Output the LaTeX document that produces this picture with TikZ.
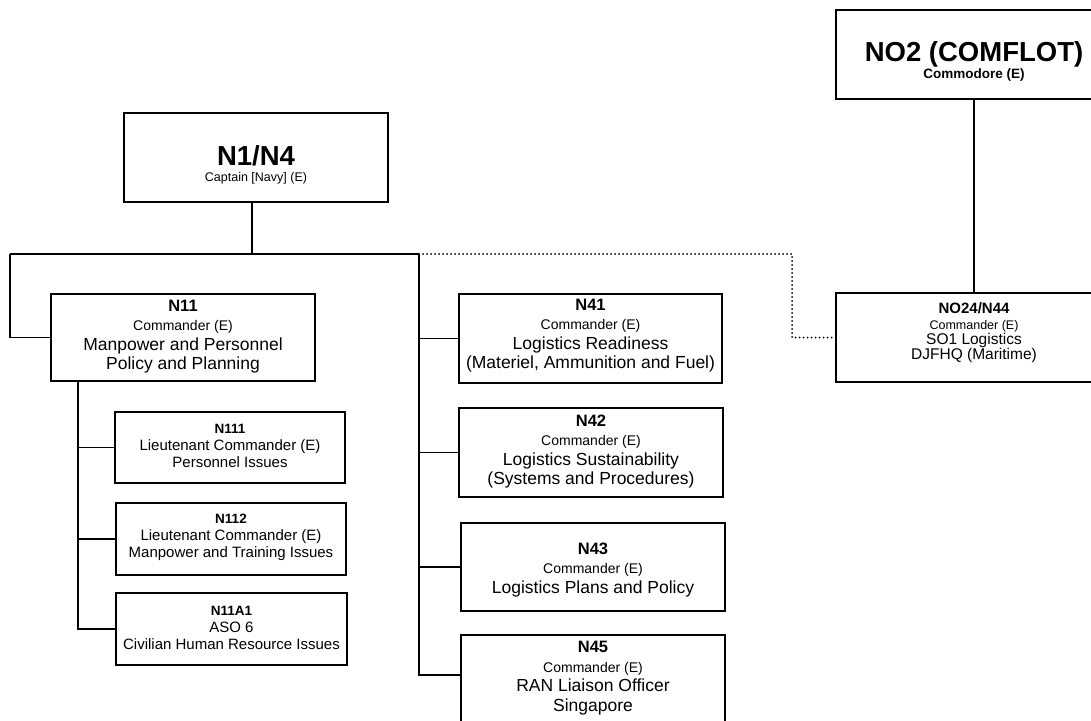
\documentclass[tikz,border=0pt]{standalone}
\usepackage{fontspec}
\setmainfont{Liberation Sans}
\newcommand{\fT}{\fontsize{27.5}{28}\selectfont\bfseries}
\newcommand{\fS}{\fontsize{12.5}{14}\selectfont}
\newcommand{\fSb}{\fontsize{13.5}{15}\selectfont\bfseries}
\newcommand{\fH}{\fontsize{16.5}{18}\selectfont\bfseries}
\newcommand{\fC}{\fontsize{14}{16}\selectfont}
\newcommand{\fL}{\fontsize{17.5}{19}\selectfont}
\newcommand{\fM}{\fontsize{15}{17}\selectfont}
\newcommand{\fMl}{\fontsize{15.5}{16}\selectfont}
\newcommand{\fN}{\fontsize{13.5}{15}\selectfont\bfseries}
\newcommand{\fNb}{\fontsize{15}{17}\selectfont\bfseries}
\newcommand{\fCs}{\fontsize{12.5}{14}\selectfont}
\begin{document}
\begin{tikzpicture}[x=1pt,y=-1pt,
  box/.style={draw, line width=1.5pt, rectangle, inner sep=0pt},
  conn/.style={line width=1.4pt},
  dots/.style={line width=2pt, line cap=round, dash pattern=on 0pt off 4pt},
  big/.style={align=center, font=\fontsize{17.5}{19.5}\selectfont, inner sep=0pt},
  small/.style={align=center, font=\fontsize{15}{17}\selectfont, inner sep=0pt},
  tiny/.style={align=center, font=\fontsize{15}{15.4}\selectfont, inner sep=0pt}
]
\useasboundingbox (0,0) rectangle (1091,720);
\clip (0,0) rectangle (1091,720);

% top boxes
\node[box, minimum width=264pt, minimum height=89pt] (n1) at (256,157.5) {};
\node[align=center, inner sep=0pt, font=\fontsize{16}{16}\selectfont, yshift=-7pt] (n1t) at (n1.center)
  {{\fT N1/N4}\\{\fS Captain [Navy] (E)}};

\node[box, minimum width=276pt, minimum height=89pt] (no2) at (974,54.5) {};
\node[align=center, inner sep=0pt, font=\fontsize{17}{17}\selectfont, yshift=-7pt] (no2t) at (no2.center)
  {{\fT NO2 (COMFLOT)}\\{\fSb Commodore (E)}};

\node[box, minimum width=276pt, minimum height=89pt] (no24) at (974,337.5) {};
\node[tiny, yshift=4.5pt] (no24t) at (no24.center)
  {{\fNb NO24/N44}\\{\fCs Commander (E)}\\{\fMl SO1 Logistics}\\{\fMl DJFHQ (Maritime)}};

% N11 branch
\node[box, minimum width=264pt, minimum height=87pt] (n11) at (183,337.5) {};
\node[big, yshift=1pt] (n11t) at (n11.center)
  {{\fH N11}\\{\fC Commander (E)}\\{\fL Manpower and Personnel}\\{\fL Policy and Planning}};

\node[box, minimum width=230pt, minimum height=71pt] (n111) at (230,447.5) {};
\node[small, yshift=1.5pt] (n111t) at (n111.center)
  {{\fN N111}\\{\fM Lieutenant Commander (E)}\\{\fM Personnel Issues}};

\node[box, minimum width=230pt, minimum height=72pt] (n112) at (231,539) {};
\node[small, yshift=1.5pt] (n112t) at (n112.center)
  {{\fN N112}\\{\fM Lieutenant Commander (E)}\\{\fM Manpower and Training Issues}};

\node[box, minimum width=231pt, minimum height=72pt] (n11a1) at (231.5,629) {};
\node[small, yshift=1.5pt] (n11a1t) at (n11a1.center)
  {{\fN N11A1}\\{\fM ASO 6}\\{\fM Civilian Human Resource Issues}};

% N4x branch
\node[box, minimum width=263pt, minimum height=89pt] (n41) at (590.5,338.5) {};
\node[big, yshift=3pt] (n41t) at (n41.center)
  {{\fH N41}\\{\fC Commander (E)}\\{\fL Logistics Readiness}\\{\fL (Materiel, Ammunition and Fuel)}};

\node[box, minimum width=264pt, minimum height=89pt] (n42) at (591,452.5) {};
\node[big, yshift=1pt] (n42t) at (n42.center)
  {{\fH N42}\\{\fC Commander (E)}\\{\fL Logistics Sustainability}\\{\fL (Systems and Procedures)}};

\node[box, minimum width=264pt, minimum height=88pt] (n43) at (593,567) {};
\node[big, yshift=-3pt] (n43t) at (n43.center)
  {{\fH N43}\\{\fC Commander (E)}\\{\fL Logistics Plans and Policy}};

\node[box, minimum width=264pt, minimum height=89pt] (n45) at (593,679.5) {};
\node[big, yshift=1.5pt] (n45t) at (n45.center)
  {{\fH N45}\\{\fC Commander (E)}\\{\fL RAN Liaison Officer}\\{\fL Singapore}};

% connectors
\coordinate (hb) at (252,254);
\coordinate (hl) at (10,254);
\coordinate (hr) at (419,254);
\coordinate (c45) at (419,675);
\coordinate (v11) at (78,381);
\coordinate (dc) at (792,254);

\draw[conn] (n1.south -| hb) -- (hb);
\draw[conn] (hl) -- (hr);
\draw[conn] (hl) |- (n11.west);
\draw[conn] (hr) -- (c45) -- (c45 -| n45.west);
\draw[conn] (hr |- n41.west) -- (n41.west);
\draw[conn] (hr |- n42.west) -- (n42.west);
\draw[conn] (hr |- n43.west) -- (n43.west);
\draw[conn] (n11.south -| v11) |- (n11a1.west);
\draw[conn] (v11 |- n111.west) -- (n111.west);
\draw[conn] (v11 |- n112.west) -- (n112.west);
\draw[conn] (no2.south) -- (no24.north);
\draw[dots] (hr) -- (dc) |- (no24.west);
\end{tikzpicture}
\end{document}
